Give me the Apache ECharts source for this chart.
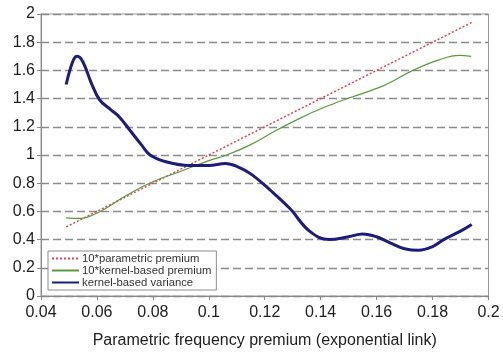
<!DOCTYPE html>
<html>
<head>
<meta charset="utf-8">
<script src="https://cdn.jsdelivr.net/npm/echarts@6/dist/echarts.min.js"></script>
<style>
  html, body { margin: 0; padding: 0; background: #fff; }
  #chart { width: 503px; height: 354px; }
</style>
</head>
<body>
<div id="chart"></div>
<script>
// Series names
const seriesNames = ['10*parametric premium', '10*kernel-based premium', 'kernel-based variance'];

// 10 * parametric premium (red dotted)
const paramX = [0.049, 0.07, 0.09, 0.11, 0.13, 0.15, 0.17, 0.194];
const paramY = [0.49, 0.70, 0.90, 1.10, 1.30, 1.50, 1.70, 1.94];

// 10 * kernel-based premium (green)
const kernelX = [0.049, 0.054, 0.061, 0.0706, 0.08, 0.09, 0.1, 0.1064, 0.1146, 0.1232, 0.1325, 0.1415, 0.1504, 0.1623, 0.173, 0.1825, 0.1896, 0.1938];
const kernelY = [0.554, 0.55, 0.598, 0.714, 0.81, 0.885, 0.96, 1.0, 1.07, 1.165, 1.26, 1.34, 1.406, 1.49, 1.60, 1.676, 1.706, 1.70];

// kernel-based variance (navy, thick)
const varX = [0.049, 0.0515, 0.053, 0.055, 0.058, 0.061, 0.065, 0.068, 0.072, 0.076, 0.079, 0.085, 0.093, 0.1, 0.106, 0.11, 0.115, 0.122, 0.129, 0.136, 0.143, 0.15, 0.155, 0.16, 0.165, 0.17, 0.175, 0.18, 0.184, 0.19, 0.194];
const varY = [1.50, 1.67, 1.70, 1.66, 1.51, 1.39, 1.32, 1.27, 1.17, 1.07, 1.00, 0.95, 0.925, 0.925, 0.94, 0.92, 0.866, 0.75, 0.62, 0.46, 0.40, 0.42, 0.44, 0.42, 0.375, 0.335, 0.324, 0.35, 0.40, 0.46, 0.507];

// Axis ticks
const xMin = 0.04, xMax = 0.2, xStep = 0.02;
const yMin = 0, yMax = 2, yStep = 0.2;

const zip = (xs, ys) => xs.map((x, i) => [x, ys[i]]);

const chart = echarts.init(document.getElementById('chart'), null, { renderer: 'canvas' });
const font = 'Liberation Sans, Arial, Helvetica, sans-serif';

chart.setOption({
  animation: false,
  backgroundColor: '#ffffff',
  grid: {
    left: 41, right: 14.5, top: 14, bottom: 56,
    show: true, borderColor: '#9a9a9a', borderWidth: 1, backgroundColor: 'transparent'
  },
  xAxis: {
    type: 'value', min: xMin, max: xMax, interval: xStep,
    name: 'Parametric frequency premium (exponential link)',
    nameLocation: 'middle', nameGap: 37,
    nameTextStyle: { fontFamily: font, fontSize: 16, color: '#222' },
    axisLine: { show: true, lineStyle: { color: '#888', width: 1 } },
    axisTick: { show: true, length: 4, lineStyle: { color: '#888' } },
    axisLabel: {
      fontFamily: font, fontSize: 16, color: '#222', margin: 9,
      formatter: v => String(+v.toFixed(2))
    },
    splitLine: { show: false }
  },
  yAxis: {
    type: 'value', min: yMin, max: yMax, interval: yStep,
    axisLine: { show: true, lineStyle: { color: '#888', width: 1 } },
    axisTick: { show: true, length: 4, lineStyle: { color: '#888' } },
    axisLabel: {
      fontFamily: font, fontSize: 16, color: '#222', margin: 6,
      formatter: v => String(+v.toFixed(1))
    },
    splitLine: { show: true, lineStyle: { color: '#8c8c8c', type: [8, 4], width: 1.3 } }
  },
  legend: {
    orient: 'vertical', left: 48, top: 251,
    backgroundColor: '#ffffff', borderColor: '#8c8c8c', borderWidth: 1,
    padding: [2, 5, 2, 3], itemGap: 1, itemWidth: 27, itemHeight: 12,
    itemStyle: { opacity: 0 },
    textStyle: { fontFamily: font, fontSize: 11.3, color: '#333', padding: [0, 0, 0, -2] },
    data: seriesNames
  },
  series: [
    {
      name: seriesNames[0], type: 'line', data: zip(paramX, paramY),
      symbol: 'none', smooth: false, z: 2,
      lineStyle: { color: '#e8424a', width: 1.5, type: [2, 2] },
      itemStyle: { color: '#e8424a' }
    },
    {
      name: seriesNames[1], type: 'line', data: zip(kernelX, kernelY),
      symbol: 'none', smooth: 0.4, z: 3,
      lineStyle: { color: '#5b9a3c', width: 1.2 },
      itemStyle: { color: '#5b9a3c' }
    },
    {
      name: seriesNames[2], type: 'line', data: zip(varX, varY),
      symbol: 'none', smooth: 0.4, z: 4,
      lineStyle: { color: '#1c1c7c', width: 3 },
      itemStyle: { color: '#1c1c7c' }
    }
  ]
});
</script>
</body>
</html>
